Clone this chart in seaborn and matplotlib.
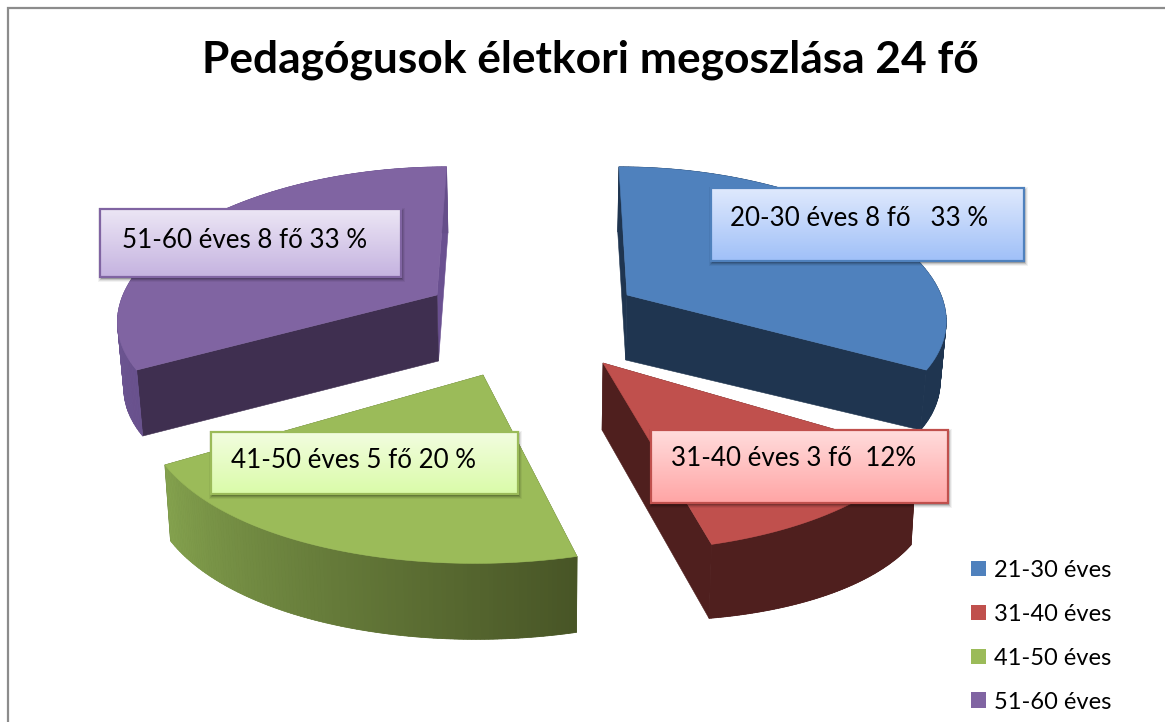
import numpy as np
import seaborn as sns
import matplotlib.pyplot as plt
from matplotlib.patches import Patch, Polygon, Rectangle

# chart data
age_groups = ['21-30 éves', '31-40 éves', '41-50 éves', '51-60 éves']
counts = [8, 3, 5, 8]
box_texts = ['20-30 éves 8 fő   33 %', '31-40 éves 3 fő  12%', '41-50 éves 5 fő 20 %', '51-60 éves 8 fő 33 %']
title = 'Pedagógusok életkori megoszlása 24 fő'

# look of the slices, in pixels of the picture
top_colors = ['#4f81bd', '#c0504d', '#9bbb59', '#8064a2']
cut_colors = ['#1f3550', '#4f1f1e', '#4f5f2c', '#3f2f50']
wall_from = ['#1f3550', '#4f1f1e', '#84a24e', '#6b5490']
wall_to = ['#1f3550', '#4f1f1e', '#485526', '#664e8a']
apex_x = [627, 603, 483, 437]
apex_y = [295, 363, 375, 295]
depth_apex = [65, 67, 76, 66]
depth_rim_start = [65, 92, 76, 66]
depth_rim_end = [60, 74, 76, 66]
rx = [314, 331, 336, 314]
ry = [142, 172, 172, 142]
ky = [0.108, 0.087, 0.087, 0.108]
kx = 0.15
mid_x = 540

box_x = [711, 651, 211, 100]
box_y = [188, 430, 432, 209]
box_w = [313, 297, 307, 301]
box_h = [73, 73, 62, 68]
text_x = [730, 671, 231, 122]
text_y = [218, 459, 461, 240]
grad_top = ['#dfe9fd', '#ffdcdc', '#f2fddf', '#ece6f5']
grad_bot = ['#a0c0f8', '#ffa5a5', '#dafba9', '#c5b3e0']

sns.set_theme(style='white')
plt.rcParams['font.family'] = ['Lato', 'Noto Sans', 'DejaVu Sans']

fig = plt.figure(figsize=(11.65, 7.22), dpi=100)
ax = fig.add_axes([0, 0, 1, 1])
ax.set_xlim(0, 1165)
ax.set_ylim(722, 0)
ax.axis('off')

ax.add_patch(Rectangle((7.5, 8), 1300, 1000, fc='white', ec='#8c8c8c', lw=1.6, zorder=0))


def project(i, theta):
    # point of the slice rim seen from the tilted camera
    u, v = np.sin(theta), np.cos(theta)
    x = apex_x[i] + rx[i] * u / (1 + kx * v) + (apex_x[i] - mid_x) * (1 / (1 + 0.203 * v) - 1) * 0.55
    y = apex_y[i] - ry[i] * v / (1 + ky[i] * v)
    return x, y


def lower(x, y, d):
    return mid_x + (x - mid_x) * 0.985, y + d


edges = np.cumsum([0] + counts) / sum(counts) * 2 * np.pi

# slices from back to front
for i in [3, 0, 2, 1]:
    th = np.linspace(edges[i], edges[i + 1], 121)
    xs, ys = project(i, th)
    bx, by = lower(xs, ys, np.linspace(depth_rim_start[i], depth_rim_end[i], len(th)))
    ax0, ay0 = apex_x[i], apex_y[i]
    bx0, by0 = lower(ax0, ay0, depth_apex[i])

    side = cut_colors[i]
    # the thin far cut of the purple slice is lighter than its front cut
    far_side = '#6a5090' if i == 3 else side
    ax.add_patch(Polygon([(ax0, ay0), (xs[-1], ys[-1]), (bx[-1], by[-1]), (bx0, by0)], fc=far_side, ec=far_side, lw=0.4, zorder=2))
    ax.add_patch(Polygon([(ax0, ay0), (xs[0], ys[0]), (bx[0], by[0]), (bx0, by0)], fc=side, ec=side, lw=0.4, zorder=2))

    # wall: a base shape first so the strips leave no light seams
    wall = sns.blend_palette([wall_from[i], wall_to[i]], len(th) - 1)
    base = np.column_stack([np.r_[xs, bx[::-1]], np.r_[ys, by[::-1]]])
    ax.add_patch(Polygon(base, fc=wall[len(wall) // 2], ec='none', zorder=2))
    ranks = np.argsort(np.argsort(xs[:-1]))
    for j in range(len(th) - 1):
        c = wall[ranks[j]]
        quad = [(xs[j], ys[j]), (xs[j + 1], ys[j + 1]), (bx[j + 1], by[j + 1]), (bx[j], by[j])]
        ax.add_patch(Polygon(quad, fc=c, ec=c, lw=0.5, zorder=2))

    outline = np.column_stack([np.r_[ax0, xs], np.r_[ay0, ys]])
    ax.add_patch(Polygon(outline, fc=top_colors[i], ec=top_colors[i], lw=0.4, zorder=2))

# label boxes with a vertical gradient
for i in range(len(box_texts)):
    x0, y0, w, h = box_x[i], box_y[i], box_w[i], box_h[i]
    for grow, alpha in [(4, 0.05), (3, 0.08), (2, 0.12), (1, 0.2)]:
        ax.add_patch(Rectangle((x0 - grow + 2, y0 - grow + 3), w + 2 * grow - 2, h + 2 * grow - 2,
                               fc='black', ec='none', alpha=alpha, zorder=3))
    cmap = sns.blend_palette([grad_top[i], grad_bot[i]], as_cmap=True)
    ax.imshow(np.linspace(0, 1, 64).reshape(-1, 1), cmap=cmap, extent=(x0, x0 + w, y0 + h, y0),
              aspect='auto', zorder=4)
    ax.add_patch(Rectangle((x0, y0), w, h, fc='none', ec=top_colors[i], lw=1.6, zorder=5))
    ax.text(text_x[i], text_y[i], box_texts[i], fontsize=18.7, color='black', va='center', ha='left', zorder=6)
ax.set_xlim(0, 1165)
ax.set_ylim(722, 0)

ax.text(590, 60, title, fontsize=31.9, fontweight='bold', color='black', ha='center', va='center', zorder=6)

handles = [Patch(fc=c, ec='none') for c in top_colors]
ax.legend(handles, age_groups, loc='upper left', bbox_to_anchor=(959, 548), bbox_transform=ax.transData,
          frameon=False, fontsize=17, labelcolor='black', handlelength=0.64, handleheight=0.64,
          handletextpad=0.34, labelspacing=0.97, borderpad=0.5, borderaxespad=0)

fig.savefig('out.png', dpi=100)
